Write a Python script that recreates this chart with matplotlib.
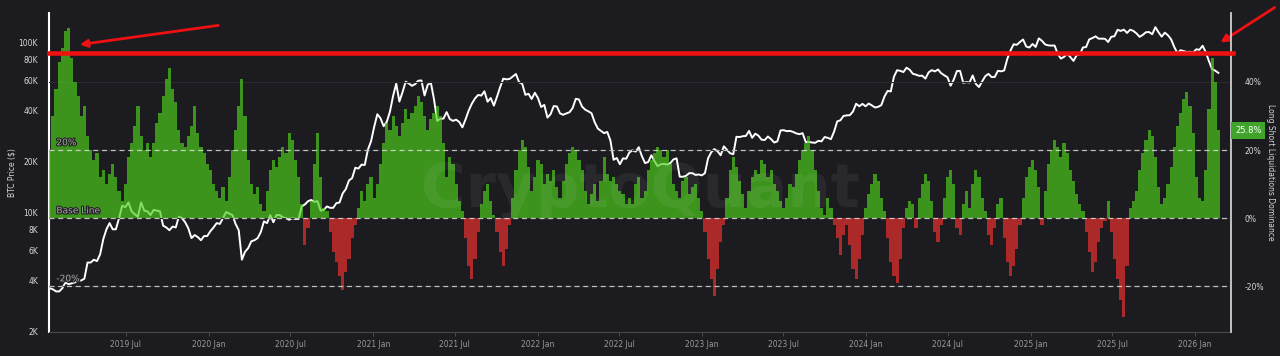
#!/usr/bin/env python3
"""BTC price vs long/short liquidations dominance (weekly)."""

import matplotlib

matplotlib.use("Agg")
import matplotlib.pyplot as plt
import matplotlib.patheffects as pe
import matplotlib.transforms as mtransforms
from matplotlib.ticker import NullLocator
import numpy as np
import pandas as pd

START = "2019-01-13"  # first weekly sample

# long/short liquidations dominance, % (positive = longs liquidated)
dominance_2019 = [20, 30, 38, 46, 50, 55, 56, 47, 40, 36, 30, 33, 24, 20, 17, 19, 12, 14, 10, 13,
                  16, 12, 8, 5, 10, 18, 22, 27, 33, 24, 20, 22, 18, 22, 28, 31, 36, 41, 44, 38,
                  34, 26, 22, 21, 24, 27, 33, 25, 21, 19, 16]
dominance_2020 = [14, 10, 8, 6, 9, 5, 12, 20, 26, 33, 41, 30, 17, 10, 7, 9, 4, 2, 8, 14,
                  17, 15, 18, 21, 19, 25, 23, 17, 12, 4, -8, -3, 5, 16, 25, 12, 3, 2, -4, -10,
                  -13, -17, -21, -16, -12, -6, -2, 3, 8, 5, 10, 12]
dominance_2021 = [6, 10, 16, 22, 28, 26, 30, 27, 24, 28, 32, 29, 31, 33, 36, 34, 30, 26, 29, 31,
                  33, 30, 22, 12, 18, 16, 10, 5, 2, -6, -14, -18, -12, -4, 4, 8, 10, 5, 1, -4,
                  -10, -14, -9, -2, 6, 14, 20, 23, 21, 15, 8, 12]
dominance_2022 = [17, 16, 10, 13, 11, 14, 9, 6, 11, 16, 19, 21, 20, 17, 14, 8, 4, 7, 10, 5,
                  11, 18, 13, 11, 12, 10, 8, 7, 4, 6, 4, 10, 12, 6, 8, 14, 17, 19, 21, 20,
                  18, 20, 16, 10, 8, 6, 11, 12, 7, 9, 10, 6]
dominance_2023 = [2, -4, -12, -18, -23, -15, -7, -2, 6, 14, 18, 15, 11, 7, 3, 8, 12, 14, 13, 17,
                  16, 12, 14, 10, 8, 5, 3, 6, 10, 9, 13, 17, 20, 22, 24, 20, 14, 8, 3, 1,
                  6, 3, -2, -6, -11, -5, -2, -8, -15, -18, -12, -5, 3]
dominance_2024 = [7, 10, 13, 11, 6, 2, -6, -13, -17, -19, -12, -3, 3, 5, 4, -3, 6, 10, 13, 11,
                  5, -4, -7, -2, 6, 12, 14, 10, -3, -5, 4, 8, 3, 10, 14, 12, 6, 2, -5, -8,
                  -3, 4, 6, -6, -13, -17, -14, -9, -2, 6, 12, 15]
dominance_2025 = [17, 14, 9, -2, 8, 16, 20, 23, 21, 18, 22, 19, 14, 11, 7, 4, 2, -4, -10, -16,
                  -13, -7, -3, -1, 5, -4, -12, -18, -24, -29, -14, 3, 5, 8, 14, 19, 23, 26, 24, 18,
                  9, 4, 6, 10, 15, 21, 27, 31, 35, 37, 33, 25]
dominance_2026 = [12, 6, 5, 14, 32, 47, 40, 25.8]

# BTC price, thousands of USD
price_2019 = [3.6, 3.55, 3.45, 3.45, 3.6, 3.9, 3.8, 3.85, 3.9, 4.0, 4.0, 4.1, 5.1, 5.1, 5.3,
              5.2, 5.7, 7.0, 8.0, 8.7, 8.0, 8.0, 9.3, 11.0, 10.8, 11.5, 10.2, 9.8, 9.5, 11.5,
              10.3, 10.2, 9.7, 10.4, 10.3, 10.2, 8.4, 8.2, 7.9, 8.3, 8.2, 9.5, 9.3, 8.8, 8.1,
              7.1, 7.4, 7.2, 6.9, 7.3, 7.3]
price_2020 = [7.8, 8.2, 8.7, 8.6, 9.3, 10.1, 9.9, 9.7, 8.6, 7.9, 5.3, 5.9, 6.2, 6.8, 6.9,
              7.1, 7.7, 8.9, 8.7, 9.7, 8.8, 9.7, 9.7, 9.4, 9.3, 9.1, 9.3, 9.2, 9.2, 10.9,
              11.2, 11.7, 11.9, 11.6, 11.7, 10.3, 10.4, 10.9, 10.7, 10.7, 11.4, 11.5, 13.0, 13.8, 15.5,
              16.0, 18.4, 18.2, 19.2, 19.1, 23.5, 26.3]
price_2021 = [32.0, 38.0, 36.0, 32.3, 34.3, 39.3, 48.6, 57.5, 45.1, 51.2, 59.0, 57.6, 55.8, 57.1, 59.8,
              60.0, 49.0, 56.6, 58.2, 46.4, 34.7, 35.7, 35.8, 39.1, 35.6, 34.7, 35.3, 34.2, 31.8, 35.4,
              39.9, 43.8, 47.0, 49.3, 48.9, 51.8, 45.0, 47.3, 42.7, 48.2, 54.9, 61.5, 60.9, 61.3, 63.3,
              65.5, 58.6, 57.3, 49.4, 50.1, 46.7, 50.8]
price_2022 = [47.3, 41.9, 43.1, 36.3, 38.0, 42.4, 42.2, 38.4, 37.7, 38.4, 39.0, 41.3, 46.8, 46.4, 42.1,
              40.4, 39.5, 38.5, 34.1, 31.3, 30.3, 29.4, 29.9, 26.6, 20.5, 21.0, 19.3, 20.9, 20.8, 22.6,
              23.3, 22.9, 24.3, 21.5, 19.6, 19.9, 21.8, 20.1, 18.8, 19.3, 19.4, 19.2, 19.6, 20.6, 20.9,
              16.3, 16.3, 16.5, 17.1, 17.1, 16.7, 16.8]
price_2023 = [16.6, 17.1, 20.9, 22.7, 23.7, 23.0, 21.8, 24.6, 23.5, 22.4, 22.1, 28.0, 27.9, 28.2, 28.3,
              30.3, 27.6, 29.2, 28.4, 26.9, 26.8, 28.1, 27.1, 25.9, 26.3, 30.5, 30.6, 30.2, 30.3, 29.9,
              29.3, 29.0, 29.4, 26.1, 26.1, 25.9, 25.8, 26.5, 26.3, 27.9, 27.6, 27.1, 30.0, 34.5, 35.0,
              37.1, 37.4, 37.5, 39.4, 43.8, 42.3, 43.7, 42.3]
price_2024 = [43.9, 42.8, 41.6, 42.0, 43.0, 48.3, 52.1, 51.7, 63.1, 68.9, 68.4, 67.2, 71.3, 69.4, 65.7,
              64.9, 63.9, 64.0, 61.5, 66.9, 69.0, 67.8, 69.6, 66.2, 64.3, 62.7, 55.9, 60.8, 68.2, 68.3,
              58.1, 58.7, 58.4, 64.2, 57.3, 54.9, 59.2, 63.6, 65.6, 62.8, 62.9, 68.4, 67.9, 68.7, 80.4,
              89.9, 97.9, 97.2, 101.0, 104.5, 95.0, 93.7]
price_2025 = [98.3, 94.5, 106.1, 102.6, 97.7, 96.5, 96.2, 96.3, 86.0, 80.7, 82.6, 86.1, 82.4, 78.2, 84.5,
              85.2, 93.8, 94.3, 104.6, 106.5, 109.0, 105.6, 105.7, 105.5, 101.0, 108.4, 109.2, 119.1, 117.3, 119.4,
              114.2, 119.3, 117.4, 113.5, 108.3, 111.2, 115.3, 115.6, 112.2, 123.5, 115.2, 108.6, 114.6, 110.6, 104.7,
              94.4, 86.8, 90.4, 89.3, 88.2, 88.5, 87.8]
price_2026 = [91.5, 90.9, 96.0, 88.0, 78.0, 70.0, 68.5, 66.5]

price_ticks = [2000, 4000, 6000, 8000, 10000, 20000, 40000, 60000, 80000, 100000]
price_tick_labels = ["2K", "4K", "6K", "8K", "10K", "20K", "40K", "60K", "80K", "100K"]
dominance_ticks = [-20, 0, 20, 40]
guide_levels = [20, 0, -20]
guide_labels = ["20%", "Base Line", "-20%"]
highlight_level = 48.4  # thick red marker line, in dominance units

BG = "#1b1b20"
GREEN = "#4ccf1c"
RED = "#f0302c"
TEXT = "#d8d8d8"
MARK_RED = "#ee1111"


def main() -> None:
    dominance = np.array(dominance_2019 + dominance_2020 + dominance_2021 + dominance_2022
                         + dominance_2023 + dominance_2024 + dominance_2025 + dominance_2026)
    price = np.array(price_2019 + price_2020 + price_2021 + price_2022
                     + price_2023 + price_2024 + price_2025 + price_2026) * 1000
    dates = pd.date_range(START, periods=len(dominance), freq="7D")

    fig = plt.figure(figsize=(12.8, 3.56), dpi=100, facecolor=BG)
    ax = fig.add_axes([0.0385, 0.0683, 0.9232, 0.8944])
    ax.set_facecolor(BG)

    # price (left, log)
    ax.plot(dates, price, color="white", lw=1.4, zorder=2)
    ax.set_yscale("log")
    ax.set_ylim(2000, 149000)
    ax.set_yticks(price_ticks)
    ax.set_yticklabels(price_tick_labels)
    ax.yaxis.set_minor_locator(NullLocator())
    ax.tick_params(axis="y", length=0, pad=8, labelsize=5.5, labelcolor=TEXT)

    ax.set_xlim(pd.Timestamp("2019-01-12"), pd.Timestamp("2026-03-22"))
    xticks = pd.date_range("2019-07-01", "2026-01-01", freq="6MS")
    ax.set_xticks(xticks)
    ax.set_xticklabels([d.strftime("%Y %b") for d in xticks])
    ax.tick_params(axis="x", length=3, width=0.6, color="#555555", pad=3,
                   labelsize=5.5, labelcolor="#9a9a9a")

    # dominance (right)
    ax2 = ax.twinx()
    ax2.set_ylim(-33.4, 60.2)
    ax2.set_yticks(dominance_ticks)
    ax2.set_yticklabels([f"{v}%" for v in dominance_ticks])
    ax2.tick_params(axis="y", length=0, pad=10, labelsize=5.5, labelcolor=TEXT)
    ax2.grid(axis="y", color="#2a2a30", lw=0.8)
    ax2.set_axisbelow(True)

    colors = np.where(dominance >= 0, GREEN, RED)
    ax2.bar(dates, dominance, width=7, color=colors, alpha=0.68, linewidth=0, zorder=2)

    label_tf = mtransforms.blended_transform_factory(ax2.transAxes, ax2.transData)
    for level, text in zip(guide_levels, guide_labels):
        ax2.axhline(level, color="#dcdcdc", lw=0.9, ls=(0, (4, 3)), alpha=0.85, zorder=3)
        ax2.text(0.006, level + 0.8, text, transform=label_tf, fontsize=6.5,
                 color="#a8a8a8", ha="left", va="bottom", zorder=4,
                 path_effects=[pe.withStroke(linewidth=1.6, foreground="#202024")])

    ax2.axhline(highlight_level, color=MARK_RED, lw=3.3, zorder=6, xmax=1.002, clip_on=False)

    ax2.annotate(f"{dominance[-1]}%", xy=(1.0, dominance[-1]), xycoords=label_tf,
                 xytext=(3, 0), textcoords="offset points", ha="left", va="center",
                 fontsize=6, color="white",
                 bbox=dict(boxstyle="square,pad=0.45", fc="#3fa52a", ec="none"))

    # spines
    for spine in ("top", "right"):
        ax.spines[spine].set_visible(False)
    ax.spines["left"].set_color("white")
    ax.spines["left"].set_linewidth(1.5)
    ax.spines["bottom"].set_color("#4a4a4a")
    ax.spines["bottom"].set_linewidth(0.8)
    for spine in ("top", "left", "bottom"):
        ax2.spines[spine].set_visible(False)
    ax2.spines["right"].set_color("#cfcfcf")
    ax2.spines["right"].set_linewidth(1.3)

    fig.text(0.5, 0.466, "CryptoQuant", fontsize=44, fontweight="bold", color="white",
             alpha=0.06, ha="center", va="center")

    fig.text(12 / 1280, 0.515, "BTC Price ($)", rotation=90, fontsize=5.5, color=TEXT,
             ha="center", va="center")
    fig.text(1270 / 1280, 0.515, "Long Short Liquidations Dominance", rotation=270,
             fontsize=5.5, color=TEXT, ha="center", va="center")

    # hand-drawn red arrows
    arrow = dict(arrowstyle="-|>", color=MARK_RED, lw=2.0, mutation_scale=11)
    ax.annotate("", xy=(77, 356 - 45), xycoords="figure pixels",
                xytext=(221, 356 - 25), textcoords="figure pixels",
                arrowprops=arrow, annotation_clip=False)
    ax.annotate("", xy=(1218, 356 - 44), xycoords="figure pixels",
                xytext=(1277, 356 - 6), textcoords="figure pixels",
                arrowprops=arrow, annotation_clip=False)

    fig.savefig("out.png", dpi=100, facecolor=BG)
    plt.close(fig)


if __name__ == "__main__":
    main()
